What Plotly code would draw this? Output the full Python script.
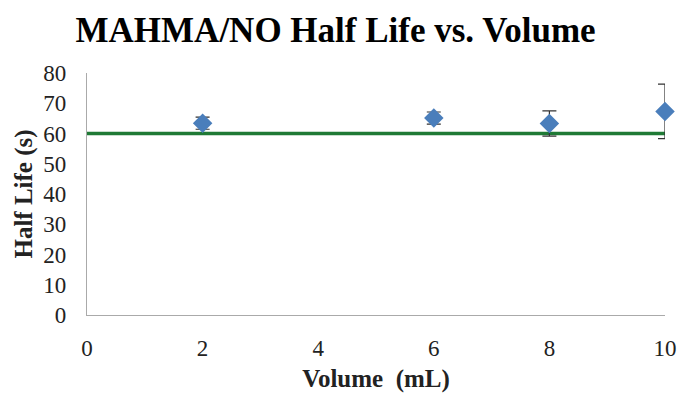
import plotly.graph_objects as go

volume = [2, 6, 8, 10]
half_life = [63.4, 65.1, 63.3, 67.3]
error = [2.0, 2.0, 4.2, 9.0]
ref_x = [0, 10]
ref_y = [60, 60]

font_family = "Liberation Serif, Times New Roman, serif"

fig = go.Figure()
fig.add_trace(go.Scatter(
    x=ref_x, y=ref_y, mode="lines",
    line=dict(color="#1f7a35", width=3.5),
    showlegend=False, hoverinfo="skip", cliponaxis=False,
))
fig.add_trace(go.Scatter(
    x=volume, y=half_life, mode="markers",
    marker=dict(symbol="diamond", size=15, color="#4a7ebb"),
    error_y=dict(type="data", array=error, visible=True,
                 color="#333333", thickness=1.2, width=7),
    showlegend=False, cliponaxis=False,
))

fig.update_layout(
    width=678, height=393,
    margin=dict(l=87, r=13, t=73, b=78),
    paper_bgcolor="white", plot_bgcolor="white",
    title=dict(text="<b>MAHMA/NO Half Life vs. Volume</b>",
               x=0.495, xanchor="center", y=0.924, yanchor="middle",
               font=dict(family=font_family, size=35, color="black")),
    font=dict(family=font_family, color="#222222"),
)
fig.update_xaxes(
    range=[0, 10], tickvals=[0, 2, 4, 6, 8, 10],
    showgrid=False, zeroline=False, automargin=False,
    showline=True, linecolor="#aaaaaa", linewidth=1.3,
    ticks="", ticklabelstandoff=12,
    tickfont=dict(family=font_family, size=23, color="#222222"),
    title=dict(text="<b>Volume  (mL)</b>", standoff=9,
               font=dict(family=font_family, size=25, color="#222222")),
)
fig.update_yaxes(
    range=[0, 80], tickvals=[0, 10, 20, 30, 40, 50, 60, 70, 80],
    showgrid=False, zeroline=False, automargin=False,
    showline=True, linecolor="#aaaaaa", linewidth=1.3,
    ticks="", ticklabelstandoff=15,
    tickfont=dict(family=font_family, size=23, color="#222222"),
    title=dict(text="<b>Half Life (s)</b>", standoff=3,
               font=dict(family=font_family, size=25, color="#222222")),
)

fig.write_html("out.html")
